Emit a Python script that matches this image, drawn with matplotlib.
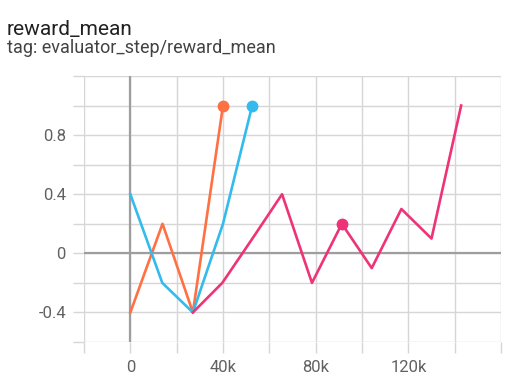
import matplotlib.pyplot as plt
from matplotlib.ticker import FixedLocator, FuncFormatter

plt.rcParams['font.family'] = ['Roboto', 'DejaVu Sans']

# runs (step, value)
orange_steps = [0, 13900, 27000, 40000]
orange_vals = [-0.4, 0.2, -0.4, 1.0]

blue_steps = [0, 13800, 27000, 40000, 52600]
blue_vals = [0.4, -0.2, -0.4, 0.2, 1.0]

pink_steps = [27000, 39700, 52700, 65500, 78400, 91300, 104200, 117000, 130000, 142800]
pink_vals = [-0.4, -0.2, 0.1, 0.4, -0.2, 0.2, -0.1, 0.3, 0.1, 1.0]

x_ticks = [0, 40000, 80000, 120000]
y_ticks = [-0.4, 0, 0.4, 0.8]

fig = plt.figure(figsize=(5.16, 3.86), dpi=100)
ax = fig.add_axes([84 / 516, 44 / 386, 417 / 516, 266 / 386])

ax.plot(orange_steps, orange_vals, color='#ff7043', lw=1.9, zorder=3)
ax.plot(orange_steps[-1], orange_vals[-1], 'o', color='#ff7043', ms=7.5, zorder=4)
ax.plot(blue_steps, blue_vals, color='#33bbee', lw=1.9, zorder=3)
ax.plot(blue_steps[-1], blue_vals[-1], 'o', color='#33bbee', ms=7.5, zorder=4)
ax.plot(pink_steps, pink_vals, color='#ee3377', lw=1.9, zorder=3)
ax.plot(pink_steps[5], pink_vals[5], 'o', color='#ee3377', ms=7.5, zorder=4)

ax.set_xlim(-20000, 160000)
ax.set_ylim(-0.6, 1.2)

ax.xaxis.set_major_locator(FixedLocator(x_ticks))
ax.xaxis.set_minor_locator(FixedLocator([i * 20000 for i in range(-1, 9)]))
ax.yaxis.set_major_locator(FixedLocator(y_ticks))
ax.yaxis.set_minor_locator(FixedLocator([-0.6 + i * 0.2 for i in range(10)]))
ax.xaxis.set_major_formatter(FuncFormatter(lambda v, p: '0' if v == 0 else f'{int(v / 1000)}k'))
ax.yaxis.set_major_formatter(FuncFormatter(lambda v, p: '0' if abs(v) < 1e-9 else f'{v:.1f}'))

ax.tick_params(which='both', length=8, width=1, color='#d6d6d6',
               labelsize=12, labelcolor='#616161')
ax.tick_params(axis='x', which='both', pad=5)
ax.tick_params(axis='y', which='both', pad=5)
ax.grid(which='both', color='#d6d6d6', lw=1)
for s in ax.spines.values():
    s.set_visible(False)
ax.axhline(0, color='#9e9e9e', lw=1.6, zorder=2)
ax.axvline(0, color='#9e9e9e', lw=1.6, zorder=2)

fig.text(7 / 516, 1 - 35 / 386, 'reward_mean', fontsize=15, color='#212121', va='baseline')
fig.text(7 / 516, 1 - 53 / 386, 'tag: evaluator_step/reward_mean', fontsize=13,
         color='#424242', va='baseline')

fig.savefig('out.png', dpi=100)
